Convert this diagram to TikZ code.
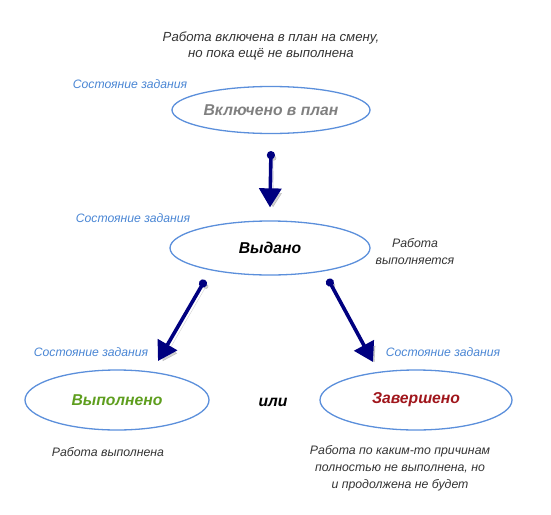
\documentclass[tikz,border=0pt]{standalone}
\usepackage{fontspec}
\setmainfont{Liberation Sans}
\usetikzlibrary{shapes.geometric,arrows.meta}
\definecolor{stateblue}{HTML}{4A86D4}
\definecolor{ringblue}{HTML}{5B8FDB}
\definecolor{arrownavy}{HTML}{000080}
\definecolor{donegreen}{HTML}{5E9E1E}
\definecolor{closedred}{HTML}{A0161C}
\tikzset{
	status/.style = {draw=ringblue, line width=1.3pt, ellipse, inner sep=0pt,
		font=\fontsize{15.7}{18}\selectfont\bfseries\itshape},
	tag/.style    = {text=stateblue, font=\fontsize{12.2}{14}\selectfont\itshape},
	note/.style   = {align=center, text=black!80, font=\fontsize{13.2}{16}\selectfont\itshape},
	small/.style  = {font=\fontsize{12.3}{17}\selectfont\itshape},
	flow/.style   = {draw=arrownavy, line width=3.6pt,
		{Circle[length=8pt]}-{Triangle[width=22pt,length=19pt]},
		preaction={draw=black, opacity=0.18, transform canvas={shift={(3pt,-3pt)}}}}
}

\begin{document}
\begin{tikzpicture}[x=1pt, y=-1pt]
\useasboundingbox (0,0) rectangle (551,514);
\draw
node at (271,46) [note] (n1) {Работа включена в план на смену,\\но пока ещё не выполнена}
node at (130,84) [tag] (t1) {Состояние задания}
node at (271,110) [status, minimum width=198pt, minimum height=47pt, text=gray] (plan) {Включено в план}
node at (133,218) [tag] (t2) {Состояние задания}
node at (270,248) [status, minimum width=200pt, minimum height=54pt] (issued) {Выдано\hspace{8pt}}
node at (415,252) [note, small] (n2) {Работа\\выполняется}
node at (91,352) [tag] (t3) {Состояние задания}
node at (443,352) [tag] (t4) {Состояние задания}
node at (117,400) [status, minimum width=184pt, minimum height=60pt, text=donegreen] (done) {Выполнено}
node at (273,402) [status, draw=none, text=black] (or) {или}
node at (416,400) [status, minimum width=192pt, minimum height=60pt, text=closedred] (closed) {Завершено}
node at (108,452) [note, small] (n3) {Работа выполнена}
node at (400,468) [note, small] (n4) {Работа по каким-то причинам\\полностью не выполнена, но\\и продолжена не будет};

\draw[flow] ([yshift=-17pt]plan.south) -- ([yshift=13pt]issued.north);
\draw[flow] ([xshift=-65pt,yshift=-32pt]issued.center) -- ([xshift=41pt,yshift=39pt]done.center);
\draw[flow] ([xshift=58pt,yshift=-31pt]issued.center) -- ([xshift=-43pt,yshift=38pt]closed.center);
\end{tikzpicture}
\end{document}
